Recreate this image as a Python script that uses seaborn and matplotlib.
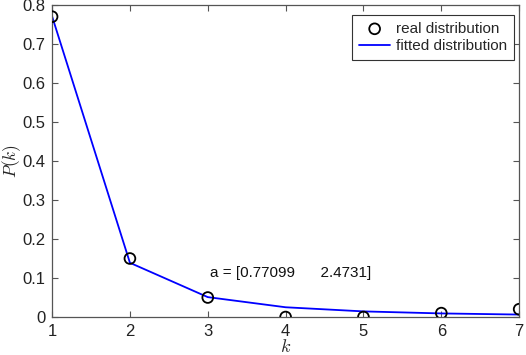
import matplotlib
matplotlib.use("Agg")
import matplotlib.pyplot as plt
import pandas as pd
import seaborn as sns

# data
k_values = [1, 2, 3, 4, 5, 6, 7]
real_p = [0.77, 0.15, 0.05, 0.0, 0.0, 0.01, 0.02]
fitted_p = [0.771, 0.139, 0.051, 0.025, 0.0144, 0.0092, 0.0063]
fit_label = "a = [0.77099      2.4731]"

df = pd.DataFrame({"k": k_values, "real": real_p, "fitted": fitted_p})

sns.set_theme(style="ticks")
plt.rcParams.update({
    "font.family": ["Liberation Sans", "DejaVu Sans"],
    "mathtext.fontset": "cm",
    "axes.edgecolor": "#555555",
    "axes.linewidth": 0.9,
    "xtick.color": "#555555",
    "ytick.color": "#555555",
    "xtick.labelcolor": "#222222",
    "ytick.labelcolor": "#222222",
    "xtick.direction": "in",
    "ytick.direction": "in",
    "xtick.major.size": 4,
    "ytick.major.size": 4,
    "xtick.major.width": 0.8,
    "ytick.major.width": 0.8,
    "xtick.labelsize": 12,
    "ytick.labelsize": 12,
})

fig = plt.figure(figsize=(5.26, 3.55), dpi=100)
ax = fig.add_axes([0.099, 0.107, 0.888, 0.879])

sns.scatterplot(data=df, x="k", y="real", ax=ax, marker="o", s=60,
                facecolors="none", edgecolor="black", linewidth=1.3,
                label="real distribution", zorder=3)
sns.lineplot(data=df, x="k", y="fitted", ax=ax, color="#0000FF",
             linewidth=1.3, label="fitted distribution", zorder=2)

ax.set_xlim(1, 7)
ax.set_ylim(0, 0.8)
ax.set_xticks(k_values)
ax.set_yticks([0, 0.1, 0.2, 0.3, 0.4, 0.5, 0.6, 0.7, 0.8])
ax.set_yticklabels(["0", "0.1", "0.2", "0.3", "0.4", "0.5", "0.6", "0.7", "0.8"])
ax.tick_params(top=True, right=True, pad=5)
for side in ["top", "right"]:
    ax.spines[side].set_visible(True)

ax.set_xlabel("$k$", fontsize=13, labelpad=0)
ax.set_ylabel("$P(k)$", fontsize=12.5, va="center")
ax.yaxis.set_label_coords(-0.086, 0.5)

ax.text(3.03, 0.113, fit_label, fontsize=11, color="#111111", va="center")

leg = ax.legend(loc="upper right", fontsize=11, frameon=True, fancybox=False,
                edgecolor="#333333", framealpha=1, borderpad=0.45,
                handlelength=2.0, handletextpad=0.4, labelspacing=0.2,
                borderaxespad=0, bbox_to_anchor=(0.989, 0.968))
leg.get_frame().set_linewidth(0.8)

fig.savefig("out.png", dpi=100)
